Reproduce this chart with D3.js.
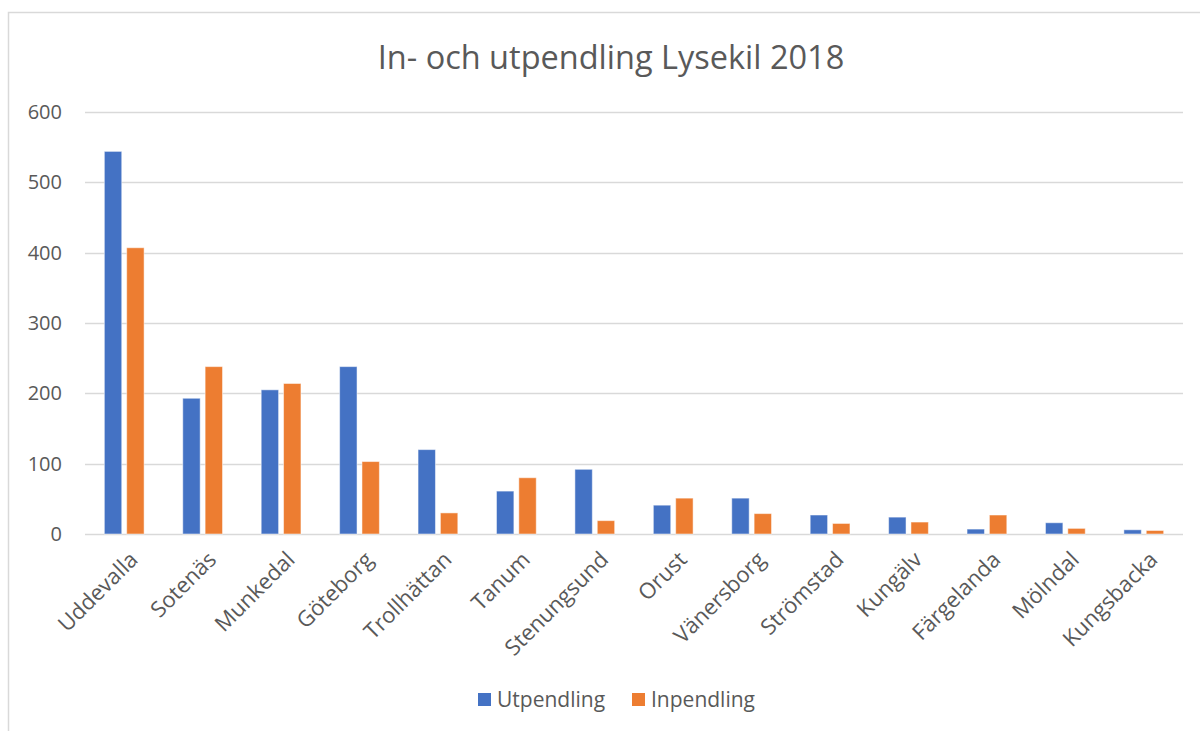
<!DOCTYPE html>
<html>
<head>
<meta charset="utf-8">
<script src="https://cdn.jsdelivr.net/npm/d3@7"></script>
<style>
  body { margin: 0; background: #fff; }
  text { font-family: "Open Sans", "Noto Sans", sans-serif; fill: #595959; }
</style>
</head>
<body>
<div id="chart"></div>
<script>
var w = 1200;
var h = 731;

// data
var kommuner = ["Uddevalla", "Sotenäs", "Munkedal", "Göteborg", "Trollhättan", "Tanum",
  "Stenungsund", "Orust", "Vänersborg", "Strömstad", "Kungälv", "Färgelanda", "Mölndal", "Kungsbacka"];
var utpendling = [544, 193, 205, 238, 120, 61, 92, 41, 51, 27, 24, 7, 16, 6];
var inpendling = [407, 238, 214, 103, 30, 80, 19, 51, 29, 15, 17, 27, 8, 5];
var seriesNames = ["Utpendling", "Inpendling"];
var colors = ["#4472c4", "#ed7d31"];
var yTicks = [0, 100, 200, 300, 400, 500, 600];

var margin = { top: 112, left: 85, right: 17, bottom: 197 };

var svg = d3.select("#chart").append("svg")
  .attr("width", w)
  .attr("height", h);

// chart frame
svg.append("rect")
  .attr("x", 8.5).attr("y", 12.5)
  .attr("width", w + 10).attr("height", h)
  .style("fill", "none")
  .style("stroke", "#d9d9d9")
  .style("stroke-width", 1.5);

svg.append("text")
  .attr("x", 611)
  .attr("y", 69)
  .attr("text-anchor", "middle")
  .style("font-size", "32.5px")
  .text("In- och utpendling Lysekil 2018");

var x = d3.scaleBand()
  .domain(kommuner)
  .range([margin.left, w - margin.right]);

var y = d3.scaleLinear()
  .domain([0, 600])
  .range([h - margin.bottom, margin.top]);

var barW = x.bandwidth() * 0.222;
var barGap = x.bandwidth() * 0.063;

var x1 = d3.scaleOrdinal()
  .domain([0, 1])
  .range([-barW - barGap / 2, barGap / 2]);

// gridlines
svg.append("g")
  .selectAll("line")
  .data(yTicks)
  .enter().append("line")
    .attr("x1", margin.left)
    .attr("x2", w - margin.right)
    .attr("y1", function(d) { return Math.round(y(d)) + 0.5; })
    .attr("y2", function(d) { return Math.round(y(d)) + 0.5; })
    .style("stroke", "#d9d9d9")
    .style("stroke-width", 1.5);

// y axis labels
var yAxis = svg.append("g")
  .attr("transform", "translate(" + (margin.left - 23) + ",0)")
  .call(d3.axisLeft(y).tickValues(yTicks).tickSize(0).tickPadding(0));
yAxis.select(".domain").remove();
yAxis.selectAll("text")
  .style("font-size", "20px")
  .style("font-family", null)
  .attr("fill", null);

// bars
var series = [utpendling, inpendling];
series.forEach(function(vals, s) {
  svg.append("g")
    .selectAll("rect")
    .data(vals)
    .enter().append("rect")
      .attr("x", function(d, i) { return x(kommuner[i]) + x.bandwidth() / 2 + x1(s); })
      .attr("y", function(d) { return y(d); })
      .attr("width", barW)
      .attr("height", function(d) { return y(0) - y(d); })
      .style("fill", colors[s])
      .style("stroke", "#fff")
      .style("stroke-opacity", 0.5)
      .style("stroke-width", 1);
});

// x labels
svg.append("g")
  .selectAll("text")
  .data(kommuner)
  .enter().append("text")
    .attr("text-anchor", "end")
    .attr("transform", function(d) {
      return "translate(" + (x(d) + x.bandwidth() / 2 + 15) + "," + 561 + ") rotate(-45)";
    })
    .style("font-size", "22px")
    .text(function(d) { return d; });

// legend
var legend = svg.append("g");
var legendX = [478, 632];
seriesNames.forEach(function(name, s) {
  legend.append("rect")
    .attr("x", legendX[s])
    .attr("y", 693)
    .attr("width", 13)
    .attr("height", 13)
    .style("fill", colors[s]);
  legend.append("text")
    .attr("x", legendX[s] + 19)
    .attr("y", 707)
    .style("font-size", "21px")
    .text(name);
});
</script>
</body>
</html>
